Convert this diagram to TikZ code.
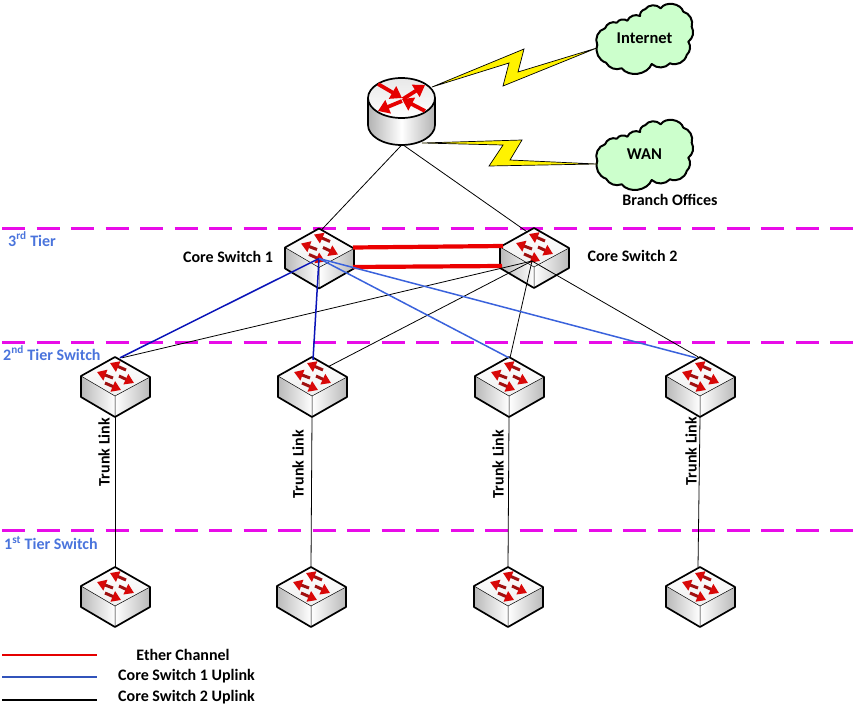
\documentclass[tikz,border=0pt]{standalone}
\usepackage{fontspec}
\setmainfont{Carlito}
\usetikzlibrary{calc,arrows.meta}
\definecolor{swred}{HTML}{D80808}
\definecolor{swdark}{HTML}{A01010}
\definecolor{tierblue}{HTML}{4A74DC}
\definecolor{upblue}{HTML}{3A62DC}
\definecolor{updark}{HTML}{0A14B8}
\definecolor{magentaline}{HTML}{E80CE8}
\definecolor{cloudgreen}{HTML}{CCFFCC}
\tikzset{
  lab/.style={font=\fontsize{16}{18}\selectfont\bfseries,text=black,inner sep=0pt},
  tierlab/.style={lab,text=tierblue,anchor=west},
  tier/.style={magentaline,line width=3pt,dash pattern=on 23pt off 11.5pt},
  swbox/.style={minimum width=69pt,minimum height=60pt,inner sep=0pt},
  routerbox/.style={minimum width=67pt,minimum height=67pt,inner sep=0pt},
  cloudtext/.style={lab,font=\fontsize{16.5}{18}\selectfont\bfseries,minimum width=95pt,minimum height=72pt},
  bolt/.style={draw=black,line width=0.7pt,fill=yellow,line join=miter},
  thin link/.style={black,line width=0.8pt},
  etherch/.style={red!92!black,line width=4.2pt},
  upa/.style={updark,line width=1.5pt},
  upb/.style={upblue,line width=1.5pt},
  swarrow/.style={draw=swdark,line width=3pt,-{Triangle[width=11pt,length=9pt,color=swred,fill=swred]}},
  rtarrow/.style={draw=red!90!black,line width=3.8pt,-{Triangle[width=14pt,length=11pt,color=red!90!black,fill=red!90!black]}},
  switchicon/.pic={
    \shade[left color=gray!55,right color=white] (-34,-11) -- (0,9) -- (0,30) -- (-34,10) -- cycle;
    \shade[left color=white,right color=gray!55] (35,-10) -- (0,9) -- (0,30) -- (35,10) -- cycle;
    \shade[top color=white,bottom color=gray!12] (0,-30) -- (35,-10) -- (0,9) -- (-34,-11) -- cycle;
    \draw[black,line width=0.5pt] (-34,-11) -- (0,9) -- (35,-10) (0,9) -- (0,30);
    \draw[black,line width=1.7pt,line join=round] (0,-30) -- (35,-10) -- (35,10) -- (0,30) -- (-34,10) -- (-34,-11) -- cycle;
    \draw[swarrow] (11,-17) -- (-5,-24);
    \draw[swarrow] (-2,-9) -- (-18,-15);
    \draw[swarrow] (4,-11) -- (19,-4);
    \draw[swarrow] (-10,-4) -- (6,3);
  },
  cloudicon/.pic={
    \draw[black,line width=2pt,fill=cloudgreen,line join=round]
      (-47.7,7) to[bend left=50] (-40,-9.7) to[bend left=45] (-28.3,-15.3) to[bend left=45] (-17.7,-17.3)
      to[bend left=45] (-5,-22) to[bend left=40] (0,-28.7) to[bend left=50] (15.7,-29.7)
      to[bend left=65] (38.3,-26.3) to[bend left=45] (46.7,-11.3) to[bend left=40] (43.3,3.7)
      to[bend left=40] (41.7,17) to[bend left=50] (25,25.3) to[bend left=45] (6.7,26)
      to[bend left=60] (-23.3,30.3) to[bend left=40] (-39,24.7) to[bend left=45] cycle;
  },
}
\begin{document}
\begin{tikzpicture}[x=1pt,y=-1pt]
\useasboundingbox (0,0) rectangle (853,706);
% tier lines
\foreach \yy in {228,342,530} \draw[tier] (2,\yy) -- (853,\yy);
% switch anchors
\node[swbox] (core1) at (319,258.5) {};
\node[swbox] (core2) at (534,258) {};
\node[swbox] (sa1) at (115,387) {};
\node[swbox] (sa2) at (312,387) {};
\node[swbox] (sa3) at (509,387) {};
\node[swbox] (sa4) at (700,387) {};
\node[swbox] (sb1) at (115,597) {};
\node[swbox] (sb2) at (311,597) {};
\node[swbox] (sb3) at (508,597) {};
\node[swbox] (sb4) at (700,597) {};
\node[routerbox] (router) at (401.5,111.5) {};
% clouds
\pic at (645,38) {cloudicon};
\pic at (645,154) {cloudicon};
\node[cloudtext] (inet) at (644.5,38.5) {Internet};
\node[cloudtext] (wan) at (644.5,154) {WAN};
% router to core / trunk links
\draw[thin link] (router.south) -- ($(core1.north)+(3,1)$);
\draw[thin link] ($(router.south)+(2,0)$) -- ($(core2.north)+(-7,4)$);
\draw[thin link] (sa1.south) -- (sb1.north);
\draw[thin link] (sa2.south) -- (sb2.north);
\draw[thin link] (sa3.south) -- (sb3.north);
\draw[thin link] (sa4.south) -- ($(sb4.north)+(-2,0)$);
% switches
\foreach \n in {core1,core2,sa1,sa2,sa3,sa4,sb1,sb2,sb3,sb4} \pic at (\n.center) {switchicon};
% router
\shade[left color=gray!60,right color=gray!60,middle color=white]
  (368,98) -- (368,125) arc[start angle=180,end angle=0,x radius=33.5,y radius=20] -- (435,98) arc[start angle=0,end angle=180,x radius=33.5,y radius=20] -- cycle;
\shade[top color=gray!18,bottom color=white] (401.5,98) ellipse[x radius=33.5,y radius=20];
\draw[black,line width=1.7pt] (368,98) -- (368,125) arc[start angle=180,end angle=0,x radius=33.5,y radius=20] -- (435,98);
\draw[black,line width=1.7pt] (401.5,98) ellipse[x radius=33.5,y radius=20];
\draw[rtarrow] (378,84) -- (402,98);
\draw[rtarrow] (403,99) -- (425,85);
\draw[rtarrow] (425,111) -- (402,99);
\draw[rtarrow] (402,101) -- (378,111);
% lightning
\draw[bolt] (432,87) -- (524,49) -- (518,72) -- ($(inet.west)+(0,9.5)$) -- (503,86) -- (509,63) -- cycle;
\draw[bolt] (422,143) -- (522,140) -- (510,160) -- ($(wan.west)+(0,10)$) -- (489,166) -- (503,145) -- cycle;
% ether channel
\draw[etherch] ($(core1.center)+(34,-11)$) -- ($(core2.center)+(-31,-12)$);
\draw[etherch] ($(core1.center)+(34,8.5)$) -- ($(core2.center)+(-32,8)$);
% uplinks
\coordinate (c2hub) at ($(core2.center)+(-2,3)$);
\draw[thin link] (c2hub) -- ($(sa1.north)+(7,1)$);
\draw[thin link] (c2hub) -- ($(sa2.north)+(16,10)$);
\draw[thin link] (c2hub) -- ($(sa3.north)+(1,1)$);
\draw[thin link] (c2hub) -- ($(sa4.north)+(-2,0)$);
\draw[upa] (core1.center) -- ($(sa1.north)+(5,1)$);
\draw[upa] (core1.center) -- ($(sa2.north)+(1,3)$);
\draw[upb] (core1.center) -- ($(sa3.north)+(0,1)$);
\draw[upb] (core1.center) -- ($(sa4.north)+(-4,1)$);
% labels
\node[lab] (l1) at (228,257) {Core Switch 1};
\node[lab] (l2) at (632.5,256) {Core Switch 2};
\node[lab] (bo) at (670,200) {Branch Offices};
\node[tierlab] (t3) at (8,239) {3\textsuperscript{rd} Tier};
\node[tierlab] (t2) at (3,353) {2\textsuperscript{nd} Tier Switch};
\node[tierlab] (t1) at (4,543) {1\textsuperscript{st} Tier Switch};
\node[lab,rotate=90] (k1) at (104,452) {Trunk Link};
\node[lab,rotate=90] (k2) at (298,464) {Trunk Link};
\node[lab,rotate=90] (k3) at (498,464) {Trunk Link};
\node[lab,rotate=90] (k4) at (691,451) {Trunk Link};
% legend
\coordinate (a1) at (2,655); \coordinate (b1) at (97,655);
\coordinate (a2) at (2,677); \coordinate (b2) at (97,677);
\coordinate (a3) at (2,700); \coordinate (b3) at (97,700);
\draw[red!90!black,line width=1.2pt] (a1) -- (b1);
\draw[upblue!85!black,line width=1.1pt] (a2) -- (b2);
\draw[black,line width=1.1pt] (a3) -- (b3);
\node[lab] (e1) at (183,655) {Ether Channel};
\node[lab] (e2) at (186.5,676) {Core Switch 1 Uplink};
\node[lab] (e3) at (186.5,697) {Core Switch 2 Uplink};
\end{tikzpicture}
\end{document}
